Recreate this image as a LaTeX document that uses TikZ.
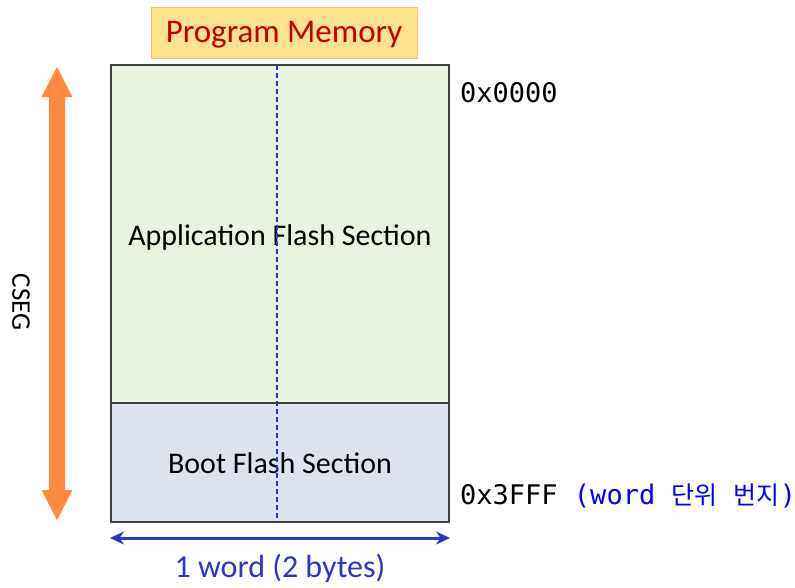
\documentclass[tikz,border=0pt]{standalone}
\usepackage{fontspec}
\usetikzlibrary{arrows.meta}
\setmainfont{Carlito}
\newfontfamily\monof{DejaVu Sans Mono}
\newfontfamily\korf{Noto Sans CJK KR}
\definecolor{appgreen}{HTML}{E8F4DF}
\definecolor{bootblue}{HTML}{DCE2EE}
\definecolor{titlefill}{HTML}{FDE28E}
\definecolor{titleborder}{HTML}{F5C07A}
\definecolor{titletext}{HTML}{C00000}
\definecolor{orangearrow}{HTML}{FF8A3D}
\definecolor{wordblue}{HTML}{2B36C8}
\definecolor{dashblue}{HTML}{2233DD}
\definecolor{edgegray}{HTML}{404040}
\begin{document}
\begin{tikzpicture}[x=1pt,y=-1pt,
  section/.style={draw=edgegray,line width=1.5pt,inner sep=0pt,outer sep=0pt,minimum width=338pt,font=\fontsize{30}{36}\selectfont},
  addr/.style={anchor=west,inner sep=0pt,font=\monof\fontsize{27}{32}\selectfont}]
\useasboundingbox (0,0) rectangle (795,587);
% sections
\node[section,fill=appgreen,minimum height=338pt] (app) at (280,234) {};
\node[font=\fontsize{30}{36}\selectfont,inner sep=0pt] (applabel) at (280,237) {Application Flash Section};
\node[section,fill=bootblue,minimum height=119pt,anchor=north] (boot) at (app.south) {};
\node[font=\fontsize{30}{36}\selectfont,inner sep=0pt] (bootlabel) at (280,463) {Boot Flash Section};
% dashed middle line
\coordinate (dtop) at (277,65);
\coordinate (dbot) at (277,522);
\draw[dashblue,dash pattern=on 5pt off 3pt,line width=1.3pt] (dtop) -- (dbot);
% redraw border on top
\draw[edgegray,line width=1.5pt] (app.north west) rectangle (boot.south east);
\draw[edgegray,line width=1.5pt] (app.south west) -- (app.south east);
% title
\node[draw=titleborder,fill=titlefill,line width=1pt,minimum width=266pt,minimum height=51pt,inner sep=0pt,outer sep=0pt] (title) at (284,32.5) {};
\node[text=titletext,font=\fontsize{33}{38}\selectfont,inner sep=0pt] (titlelabel) at (284,34.5) {Program Memory};
% orange double arrow
\fill[orangearrow] (57,67) -- (72.5,97) -- (65,97) -- (65,490) -- (72.5,490) -- (57,520) -- (41.5,490) -- (49,490) -- (49,97) -- (41.5,97) -- cycle;
\node[rotate=-90,font=\fontsize{27}{32}\selectfont,inner sep=0pt] (cseg) at (21,302) {CSEG};
% addresses
\node[addr] (a0) at (460,93) {0x0000};
\node[addr] (a1) at (460,496) {0x3FFF {\color{blue}(word {\korf\fontsize{25}{30}\selectfont 단위} {\korf\fontsize{25}{30}\selectfont 번지})}};
% width arrow
\coordinate (wl) at (110,538);
\coordinate (wr) at (450,538);
\draw[wordblue,line width=3pt,{Stealth[length=14pt,width=13pt]}-{Stealth[length=14pt,width=13pt]}] (wl) -- (wr);
\node[text=wordblue,font=\fontsize{32}{38}\selectfont,inner sep=0pt] (wlabel) at (280,568) {1 word (2 bytes)};
\end{tikzpicture}
\end{document}
